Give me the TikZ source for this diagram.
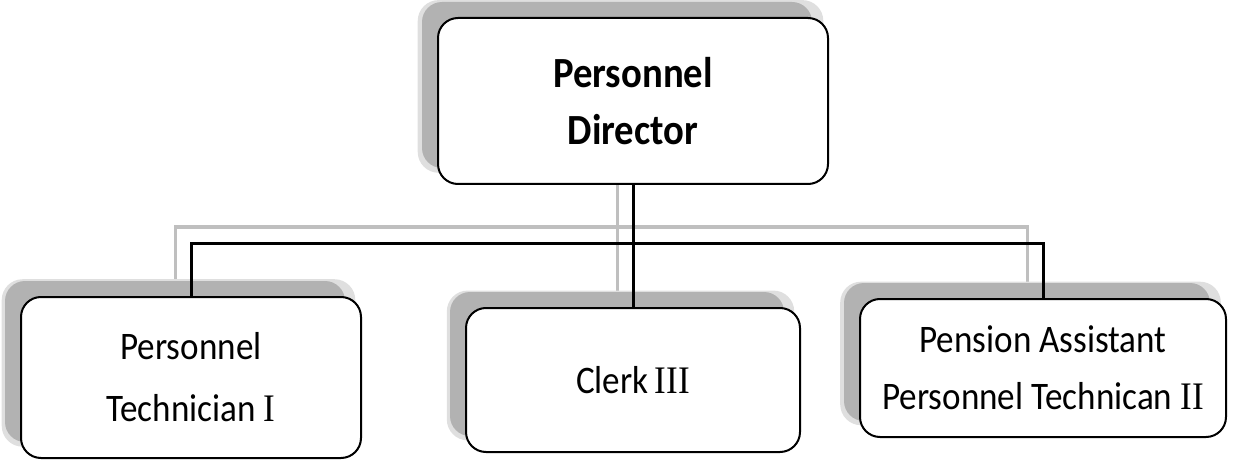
\documentclass[tikz,border=0pt]{standalone}
\usepackage{fontspec}
\setmainfont{Carlito}[FakeStretch=0.9]
\newfontfamily\numfont{Liberation Serif}[FakeStretch=0.9]
\usetikzlibrary{positioning, shadows}
\pgfdeclarelayer{background}
\pgfsetlayers{background,main}

\tikzset{
  post/.style={draw, line width=1pt, rounded corners=10pt, fill=white, align=center, inner sep=0pt,
    general shadow={fill=gray!25, shadow xshift=-6pt, shadow yshift=7pt, shadow scale=1.04},
    general shadow={fill=gray!60, shadow xshift=-8pt, shadow yshift=8pt}},
  link/.style={line width=1.5pt},
  linkshade/.style={line width=1.5pt, gray!50},
}

\begin{document}
\begin{tikzpicture}[x=1pt, y=1pt]
	\useasboundingbox (0,0) rectangle (619,-230);
	\node[post, minimum width=195pt, minimum height=83pt, font=\bfseries\fontsize{21.5}{28.5}\selectfont] (director) at (316.5,-50.5) {Personnel\\Director};
	\node[post, minimum width=170pt, minimum height=80.5pt, font=\fontsize{19.5}{31}\selectfont] (tech) at (95.5,-188.75) {Personnel\\Technician {\numfont I}};
	\node[post, minimum width=167pt, minimum height=72pt, font=\fontsize{19.5}{28.5}\selectfont] (clerk) at (316.5,-190) {Clerk\,{\numfont III}};
	\node[post, minimum width=183pt, minimum height=69pt, font=\fontsize{19.5}{28.5}\selectfont] (pension) at (521.5,-184) {\raisebox{-3pt}{Pension Assistant}\\\raisebox{-3pt}{Personnel Technican {\numfont II}}};
	\coordinate (bar) at (316.5,-121.5);
	
	% shadow of the lines
	\begin{pgfonlayer}{background}
		\begin{scope}[transform canvas={shift={(-8pt,8pt)}}]
			\draw[linkshade] (director.south) -- (clerk.north);
			\draw[linkshade] (tech.north) |- (bar) -| (pension.north);
		\end{scope}
	\end{pgfonlayer}
	
	\draw[link] (director.south) -- (clerk.north);
	\draw[link] (tech.north) |- (bar) -| (pension.north);
\end{tikzpicture}
\end{document}
